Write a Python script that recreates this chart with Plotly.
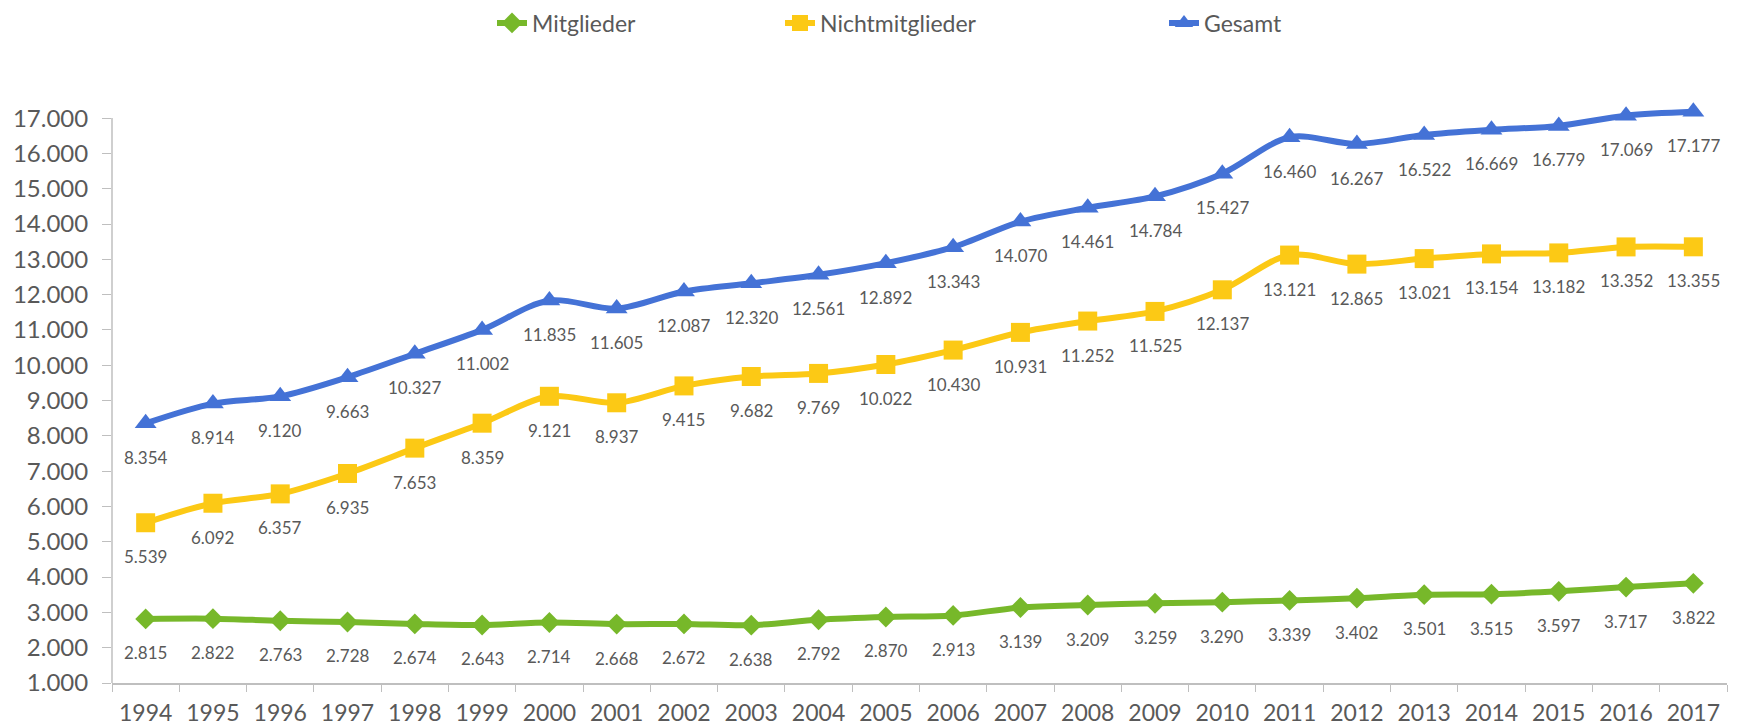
import plotly.graph_objects as go

years = [str(y) for y in range(1994, 2018)]
mitglieder = [2815, 2822, 2763, 2728, 2674, 2643, 2714, 2668, 2672, 2638, 2792, 2870,
              2913, 3139, 3209, 3259, 3290, 3339, 3402, 3501, 3515, 3597, 3717, 3822]
nichtmitglieder = [5539, 6092, 6357, 6935, 7653, 8359, 9121, 8937, 9415, 9682, 9769, 10022,
                   10430, 10931, 11252, 11525, 12137, 13121, 12865, 13021, 13154, 13182, 13352, 13355]
gesamt = [8354, 8914, 9120, 9663, 10327, 11002, 11835, 11605, 12087, 12320, 12561, 12892,
          13343, 14070, 14461, 14784, 15427, 16460, 16267, 16522, 16669, 16779, 17069, 17177]
y_ticks = list(range(1000, 18000, 1000))

FONT = "Lato"
GRAY = "#595959"
LABEL = "#595959"
AXIS = "#BFBFBF"

def fmt(v):
    return f"{v:,}".replace(",", ".")

series = [
    ("Mitglieder", mitglieder, "#77B82A", "diamond", 16, "legend"),
    ("Nichtmitglieder", nichtmitglieder, "#FCC915", "square", 19, "legend2"),
    ("Gesamt", gesamt, "#4472D6", "triangle-up", 19, "legend3"),
]

fig = go.Figure()
annotations = []
for name, vals, color, sym, size, leg in series:
    fig.add_trace(go.Scatter(
        x=years, y=vals, name=name, mode="lines+markers",
        line=dict(color=color, width=6, shape="spline", smoothing=0.9),
        marker=dict(symbol=sym, size=size, color=color),
        cliponaxis=False, legend=leg,
    ))
    for i, v in enumerate(vals):
        annotations.append(dict(
            x=i, y=v, xref="x", yref="y", text=fmt(v), showarrow=False,
            yshift=-34, font=dict(family=FONT, size=17, color=LABEL),
        ))

W, H = 1733, 720
ml, mr, mt, mb = 104, 14, 96, 45
pw, ph = W - ml - mr, H - mt - mb
Y_MIN, Y_AX_MAX, Y_MAX = 1000, 17000, 17400

def lx(px):
    return (px - ml) / pw

def ly(py):
    return (H - mb - py) / ph

legend_common = dict(orientation="h", yanchor="middle", xanchor="left",
                     bgcolor="rgba(0,0,0,0)", font=dict(family=FONT, size=23, color=GRAY),
                     xref="paper", yref="paper")

# vertical axis line from the minimum to the top tick
shapes = [dict(type="line", xref="paper", yref="y", x0=0, x1=0, y0=Y_MIN, y1=Y_AX_MAX,
               line=dict(color=AXIS, width=1.5), layer="below")]

fig.update_layout(
    width=W, height=H,
    margin=dict(l=ml, r=mr, t=mt, b=mb, autoexpand=False),
    paper_bgcolor="white", plot_bgcolor="white",
    font=dict(family=FONT, color=GRAY),
    showlegend=True,
    legend=dict(x=lx(484), y=ly(15), **legend_common),
    legend2=dict(x=lx(772), y=ly(15), **legend_common),
    legend3=dict(x=lx(1156), y=ly(15), **legend_common),
    annotations=annotations,
    shapes=shapes,
    xaxis=dict(
        type="category", showline=True, linecolor=AXIS, linewidth=1.5,
        ticks="outside", tickson="boundaries", ticklen=7, tickcolor=AXIS,
        showgrid=False, tickfont=dict(family=FONT, size=23, color=GRAY),
        ticklabelstandoff=9,
        range=[-0.5, len(years) - 0.5],
    ),
    yaxis=dict(
        range=[Y_MIN, Y_MAX], tickvals=y_ticks, ticktext=[fmt(v) for v in y_ticks],
        showline=False,
        ticks="outside", ticklen=9, tickcolor=AXIS,
        showgrid=False, zeroline=False, ticklabelstandoff=9,
        tickfont=dict(family=FONT, size=24, color=GRAY),
    ),
)

fig.write_html("out.html")
